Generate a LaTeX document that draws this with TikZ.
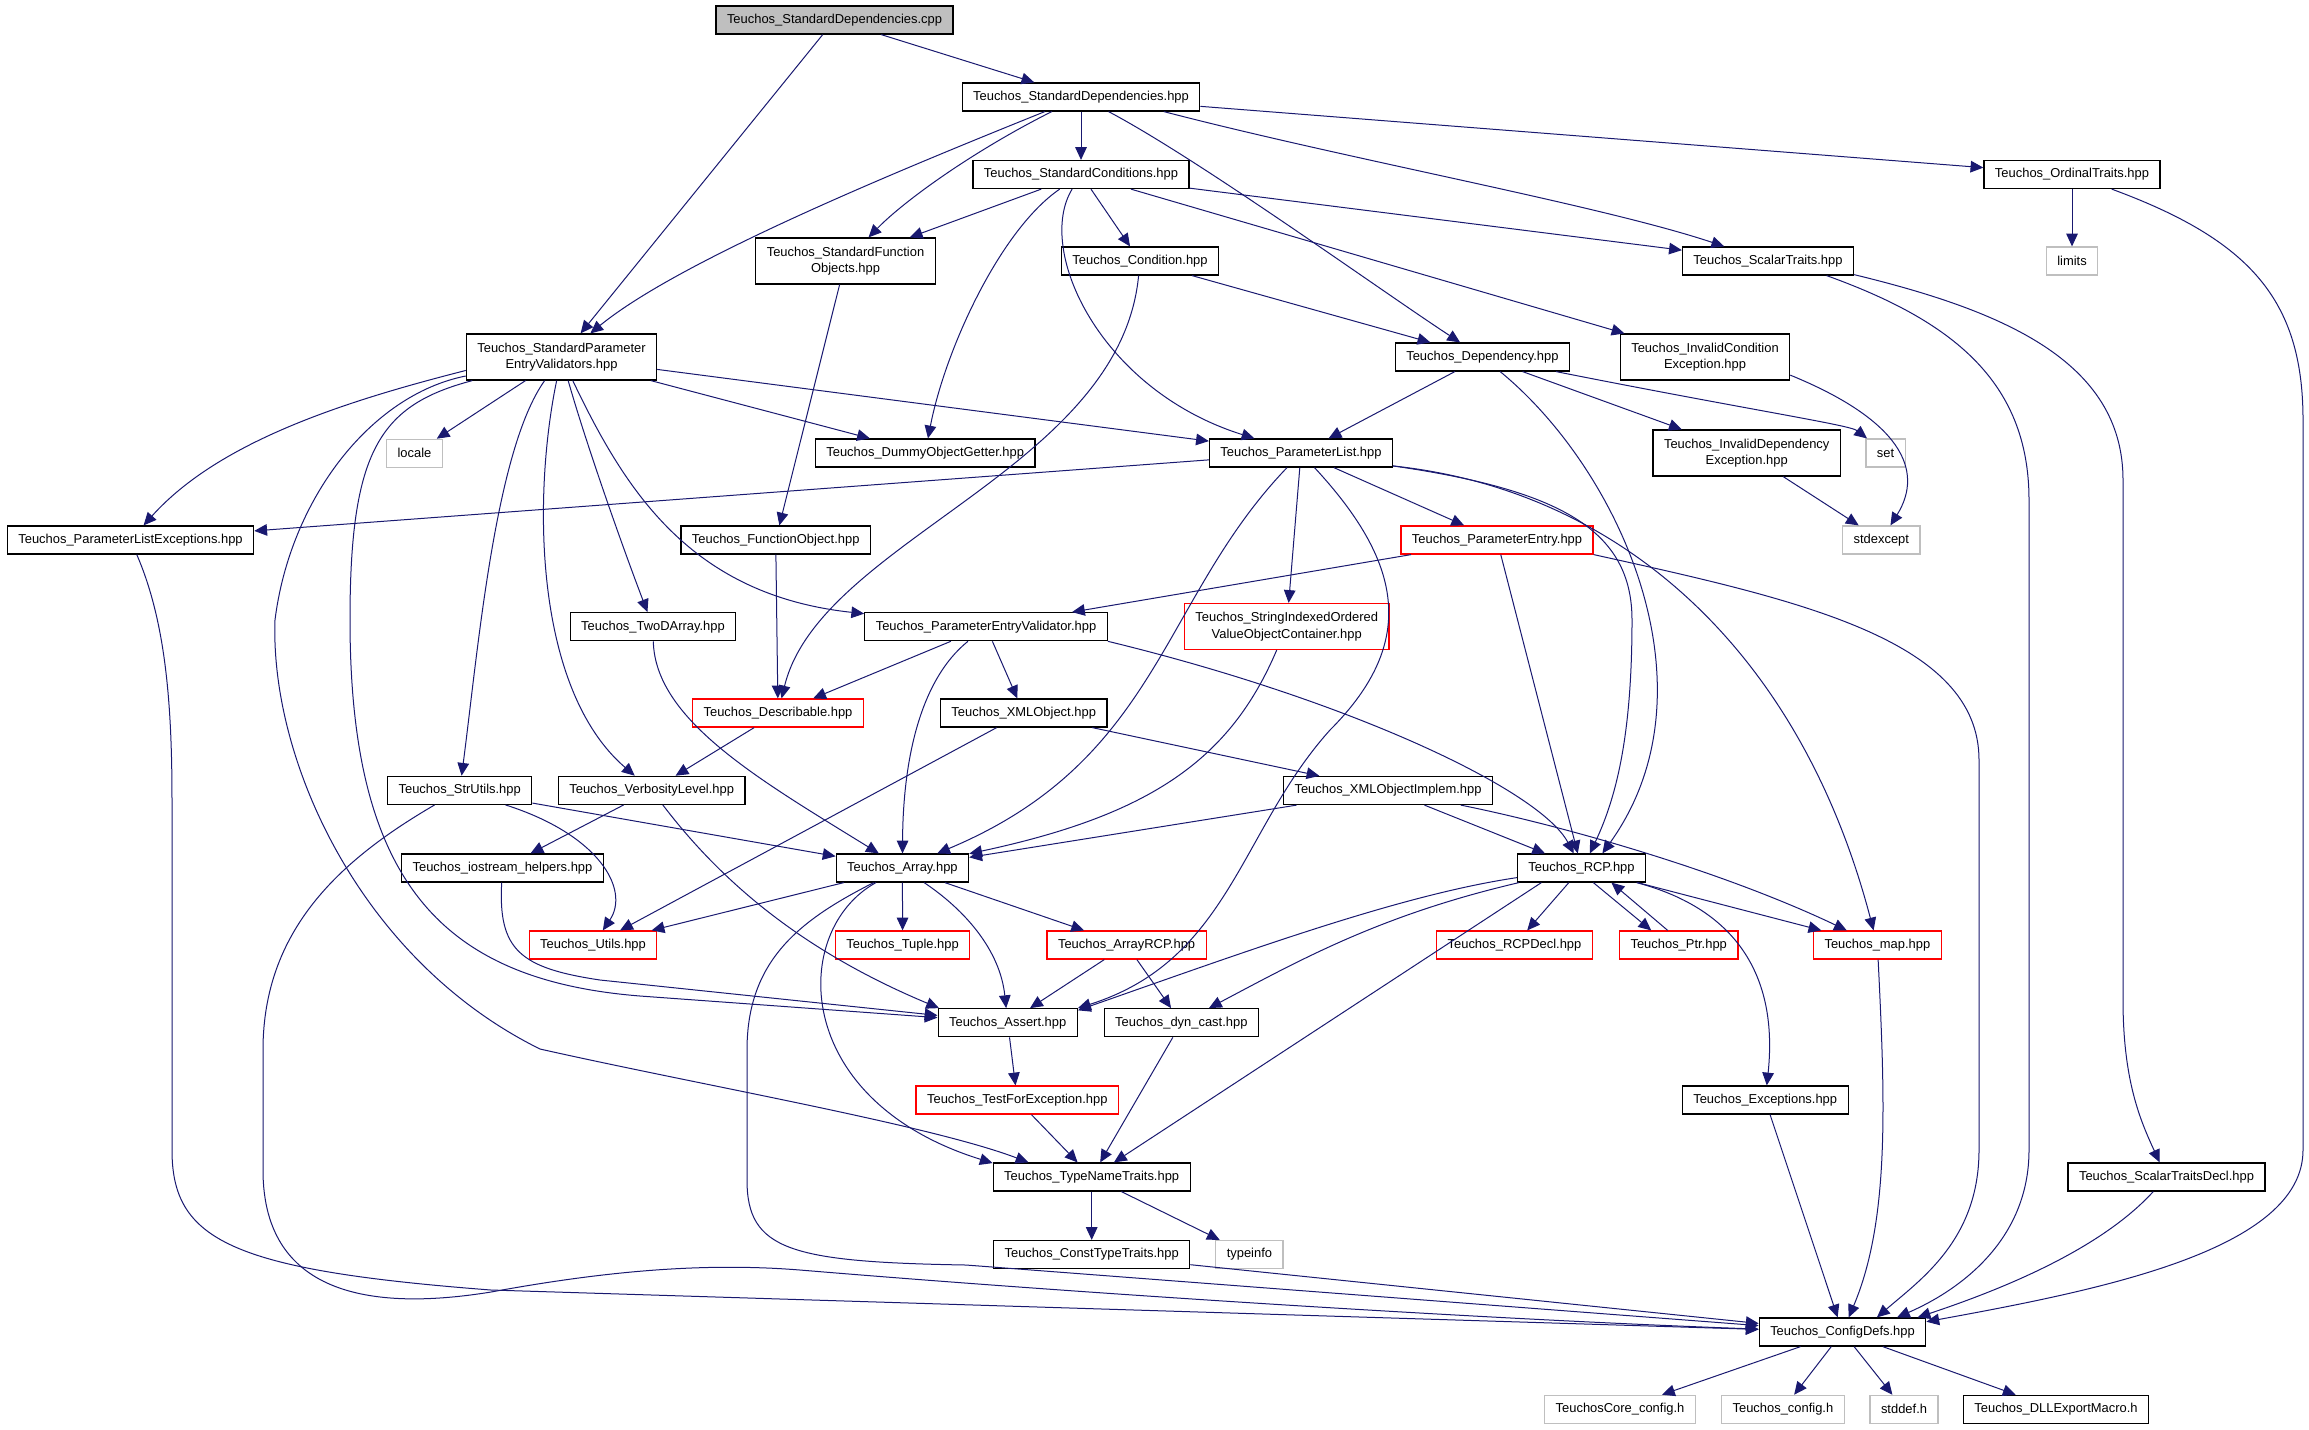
\documentclass[tikz,border=0pt]{standalone}
\usepackage{fontspec}
\setmainfont{Liberation Sans}
\usetikzlibrary{arrows.meta}
\definecolor{EdgeBlue}{HTML}{191970}
\definecolor{SysGray}{HTML}{BFBFBF}
\tikzstyle{FileNode}=[rectangle, draw=black, line width=0.3mm, fill=white, inner xsep=2.75mm, inner ysep=0pt, minimum height=7mm, font=\fontsize{9.2pt}{11.85pt}\selectfont]
\tikzstyle{TwoLineNode}=[FileNode, align=center, minimum height=11.5mm]
\tikzstyle{RedNode}=[FileNode, draw=red]
\tikzstyle{RedTwoLineNode}=[TwoLineNode, draw=red]
\tikzstyle{SysNode}=[FileNode, draw=SysGray]
\tikzstyle{RootNode}=[FileNode, fill=SysGray]
\tikzstyle{IncEdge}=[-{Triangle[length=3.2mm,width=2.9mm]}, draw=EdgeBlue, fill=none, line width=0.25mm]

\begin{document}
\begin{tikzpicture}[x=0.25mm, y=-0.25mm]
\path[fill=white, use as bounding box] (0,0) rectangle (2309,1429);

\node[RootNode](Cpp) at (834.5,20) {Teuchos\_StandardDependencies.cpp};
\node[FileNode](SDHpp) at (1081,97) {Teuchos\_StandardDependencies.hpp};
\node[FileNode](SCond) at (1081,174.5) {Teuchos\_StandardConditions.hpp};
\node[FileNode](OrdTr) at (2072,174.5) {Teuchos\_OrdinalTraits.hpp};
\node[TwoLineNode](SFuncObj) at (845.5,261) {Teuchos\_StandardFunction\\Objects.hpp};
\node[FileNode](Cond) at (1140,261) {Teuchos\_Condition.hpp};
\node[FileNode](ScTr) at (1768,261) {Teuchos\_ScalarTraits.hpp};
\node[SysNode](Limits) at (2072,261) {limits};
\node[TwoLineNode](SPEV) at (561.5,357) {Teuchos\_StandardParameter\\EntryValidators.hpp};
\node[FileNode](Dep) at (1482.4,357) {Teuchos\_Dependency.hpp};
\node[TwoLineNode](ICExc) at (1705,357) {Teuchos\_InvalidCondition\\Exception.hpp};
\node[SysNode](Locale) at (414.5,453.3) {locale};
\node[FileNode](Dummy) at (925.2,453) {Teuchos\_DummyObjectGetter.hpp};
\node[FileNode](PList) at (1301,453) {Teuchos\_ParameterList.hpp};
\node[TwoLineNode](IDExc) at (1746.7,453) {Teuchos\_InvalidDependency\\Exception.hpp};
\node[SysNode](Set) at (1885.5,453) {set};
\node[FileNode](PLExc) at (130.5,540) {Teuchos\_ParameterListExceptions.hpp};
\node[FileNode](FuncObj) at (775.7,540) {Teuchos\_FunctionObject.hpp};
\node[RedNode](PEntry) at (1497,540) {Teuchos\_ParameterEntry.hpp};
\node[SysNode](StdExc) at (1881.3,540) {stdexcept};
\node[FileNode](TwoD) at (653,626.7) {Teuchos\_TwoDArray.hpp};
\node[FileNode](PEV) at (986,626.7) {Teuchos\_ParameterEntryValidator.hpp};
\node[RedTwoLineNode](SIOVOC) at (1286.7,626.5) {Teuchos\_StringIndexedOrdered\\ValueObjectContainer.hpp};
\node[RedNode](Descr) at (778,713) {Teuchos\_Describable.hpp};
\node[FileNode](XMLObj) at (1023.7,713) {Teuchos\_XMLObject.hpp};
\node[FileNode](StrUtils) at (459.7,790.3) {Teuchos\_StrUtils.hpp};
\node[FileNode](Verb) at (651.7,790.3) {Teuchos\_VerbosityLevel.hpp};
\node[FileNode](XMLImpl) at (1388,790.5) {Teuchos\_XMLObjectImplem.hpp};
\node[FileNode](IoHelp) at (502.5,868) {Teuchos\_iostream\_helpers.hpp};
\node[FileNode](Array) at (902.4,868) {Teuchos\_Array.hpp};
\node[FileNode](RCP) at (1581.5,868) {Teuchos\_RCP.hpp};
\node[RedNode](Utils) at (593,945) {Teuchos\_Utils.hpp};
\node[RedNode](Tuple) at (902.6,945) {Teuchos\_Tuple.hpp};
\node[RedNode](ArrRCP) at (1126.6,945) {Teuchos\_ArrayRCP.hpp};
\node[RedNode](RCPDecl) at (1514.5,945) {Teuchos\_RCPDecl.hpp};
\node[RedNode](Ptr) at (1678.7,945) {Teuchos\_Ptr.hpp};
\node[RedNode](Map) at (1877.4,945) {Teuchos\_map.hpp};
\node[FileNode](Assert) at (1007.7,1022.7) {Teuchos\_Assert.hpp};
\node[FileNode](DynCast) at (1181.3,1022.7) {Teuchos\_dyn\_cast.hpp};
\node[RedNode](TFExc) at (1017.3,1100) {Teuchos\_TestForException.hpp};
\node[FileNode](Exc) at (1765.2,1100) {Teuchos\_Exceptions.hpp};
\node[FileNode](TNT) at (1091.7,1177) {Teuchos\_TypeNameTraits.hpp};
\node[FileNode](STDecl) at (2166.5,1177) {Teuchos\_ScalarTraitsDecl.hpp};
\node[FileNode](CTT) at (1091.7,1254.5) {Teuchos\_ConstTypeTraits.hpp};
\node[SysNode](TypeInfo) at (1249.4,1254.5) {typeinfo};
\node[FileNode](CfgDefs) at (1842.5,1332) {Teuchos\_ConfigDefs.hpp};
\node[SysNode](CoreCfg) at (1620,1409.3) {TeuchosCore\_config.h};
\node[SysNode](TCfg) at (1782.9,1409.3) {Teuchos\_config.h};
\node[SysNode](StdDef) at (1904,1409.3) {stddef.h};
\node[FileNode](DLL) at (2056,1409.3) {Teuchos\_DLLExportMacro.h};

% top of the graph
\draw[IncEdge] (Cpp) -- (SDHpp);
\draw[IncEdge] (Cpp) -- (SPEV);
\draw[IncEdge] (SDHpp) -- (SCond);
\draw[IncEdge] (SDHpp) .. controls (900,170) and (680,260) .. (SPEV);
\draw[IncEdge] (SDHpp) .. controls (975,150) and (905,200) .. (SFuncObj);
\draw[IncEdge] (SDHpp) .. controls (1200,160) and (1380,290) .. (Dep);
\draw[IncEdge] (SDHpp.-10) .. controls (1350,160) and (1600,205) .. (ScTr);
\draw[IncEdge] (SDHpp) -- (OrdTr);
\draw[IncEdge] (SCond) -- (SFuncObj);
\draw[IncEdge] (SCond) -- (Cond);
\draw[IncEdge] (SCond) .. controls (1000,230) and (945,350) .. (Dummy);
\draw[IncEdge] (SCond) .. controls (1035,250) and (1100,390) .. (PList);
\draw[IncEdge] (SCond) -- (ICExc);
\draw[IncEdge] (SCond) -- (ScTr);
\draw[IncEdge] (Cond) -- (Dep);
\draw[IncEdge] (Cond) .. controls (1120,470) and (820,540) .. (Descr);
\draw[IncEdge] (SFuncObj) -- (FuncObj);
\draw[IncEdge] (OrdTr) -- (Limits);

% validators
\draw[IncEdge] (SPEV) -- (Locale);
\draw[IncEdge] (SPEV.-172) .. controls (350,400) and (220,440) .. (PLExc);
\draw[IncEdge] (SPEV) -- (Dummy);
\draw[IncEdge] (SPEV) -- (PList);
\draw[IncEdge] (SPEV) .. controls (585,440) and (620,540) .. (TwoD);
\draw[IncEdge] (SPEV) .. controls (625,490) and (690,595) .. (PEV);
\draw[IncEdge] (SPEV) .. controls (495,450) and (478,650) .. (StrUtils);
\draw[IncEdge] (SPEV) .. controls (532,500) and (535,690) .. (Verb);
\draw[IncEdge] (SPEV) .. controls (380,405) and (350,450) .. (350,620) .. controls (350,880) and (440,980) .. (640,996) -- (Assert);
\draw[IncEdge] (SPEV) .. controls (370,395) and (290,500) .. (275,620) .. controls (270,760) and (360,960) .. (540,1049) .. controls (700,1085) and (930,1125) .. (TNT.167);

% parameter list
\draw[IncEdge] (PList) -- (PLExc);
\draw[IncEdge] (PList) -- (PEntry);
\draw[IncEdge] (PList) -- (SIOVOC);
\draw[IncEdge] (PList) .. controls (1160,600) and (1160,760) .. (Array);
\draw[IncEdge] (PList) .. controls (1400,560) and (1420,640) .. (1330,730) .. controls (1240,830) and (1230,960) .. (Assert.north east);
\draw[IncEdge] (PList.-8) .. controls (1560,490) and (1632,530) .. (1632,620) .. controls (1632,740) and (1615,800) .. (RCP.60);
\draw[IncEdge] (PList.-8) .. controls (1620,490) and (1800,650) .. (Map);

% dependency
\draw[IncEdge] (Dep) -- (PList);
\draw[IncEdge] (Dep) .. controls (1620,470) and (1720,690) .. (RCP.35);
\draw[IncEdge] (Dep) -- (IDExc);
\draw[IncEdge] (Dep) .. controls (1750,410) and (1850,425) .. (Set);
\draw[IncEdge] (ICExc.-12) .. controls (1900,420) and (1925,470) .. (StdExc);
\draw[IncEdge] (IDExc) -- (StdExc);

% traits down to config
\draw[IncEdge] (ScTr.-14) .. controls (1950,320) and (2029,380) .. (2029,500) -- (2029,1150) .. controls (2029,1240) and (1960,1290) .. (CfgDefs.15);
\draw[IncEdge] (ScTr.-9) .. controls (2000,310) and (2123,360) .. (2123,480) -- (2123,1000) .. controls (2123,1080) and (2140,1120) .. (STDecl);
\draw[IncEdge] (OrdTr) .. controls (2250,240) and (2303,300) .. (2303,420) -- (2303,1150) .. controls (2303,1250) and (2100,1290) .. (CfgDefs.7);
\draw[IncEdge] (STDecl) .. controls (2100,1250) and (2000,1290) .. (CfgDefs.11);

% parameter entry and validator
\draw[IncEdge] (PEntry) -- (PEV);
\draw[IncEdge] (PEntry) -- (RCP);
\draw[IncEdge] (PEntry.south east) .. controls (1800,600) and (1979,640) .. (1979,760) -- (1979,1150) .. controls (1979,1240) and (1920,1280) .. (CfgDefs.23);
\draw[IncEdge] (PEV) -- (Descr);
\draw[IncEdge] (PEV) .. controls (920,680) and (903,760) .. (Array);
\draw[IncEdge] (PEV) -- (XMLObj);
\draw[IncEdge] (PEV.south east) .. controls (1350,700) and (1540,790) .. (RCP);

% middle
\draw[IncEdge] (FuncObj) -- (Descr);
\draw[IncEdge] (Descr) -- (Verb);
\draw[IncEdge] (TwoD) .. controls (655,720) and (760,780) .. (Array);
\draw[IncEdge] (SIOVOC) .. controls (1230,760) and (1150,815) .. (Array);
\draw[IncEdge] (XMLObj) -- (Utils);
\draw[IncEdge] (XMLObj) -- (XMLImpl);
\draw[IncEdge] (XMLImpl) -- (Array);
\draw[IncEdge] (XMLImpl) -- (RCP);
\draw[IncEdge] (XMLImpl) .. controls (1560,825) and (1720,870) .. (Map);
\draw[IncEdge] (StrUtils) -- (Array);
\draw[IncEdge] (StrUtils) .. controls (600,835) and (630,890) .. (Utils);
\draw[IncEdge] (StrUtils) .. controls (340,860) and (263,930) .. (263,1050) -- (263,1170) .. controls (263,1300) and (380,1310) .. (491,1292) .. controls (600,1272) and (700,1262) .. (800,1270) .. controls (1100,1295) and (1500,1320) .. (CfgDefs);
\draw[IncEdge] (Verb) -- (IoHelp);
\draw[IncEdge] (Verb) .. controls (720,880) and (800,950) .. (Assert.168);
\draw[IncEdge] (IoHelp) .. controls (498,950) and (520,968) .. (600,980) -- (Assert);

% array
\draw[IncEdge] (Array) -- (Utils);
\draw[IncEdge] (Array) -- (Tuple);
\draw[IncEdge] (Array) -- (ArrRCP);
\draw[IncEdge] (Array) .. controls (965,910) and (1000,950) .. (Assert);
\draw[IncEdge] (Array) .. controls (790,930) and (790,1100) .. (TNT.172);
\draw[IncEdge] (Array) .. controls (800,920) and (747,960) .. (747,1050) -- (747,1180) .. controls (747,1250) and (790,1262) .. (966,1265) -- (CfgDefs);
\draw[IncEdge] (ArrRCP) -- (Assert);
\draw[IncEdge] (ArrRCP) -- (DynCast);
\draw[IncEdge] (DynCast) -- (TNT);
\draw[IncEdge] (Assert) -- (TFExc);
\draw[IncEdge] (TFExc) -- (TNT);
\draw[IncEdge] (TNT) -- (CTT);
\draw[IncEdge] (TNT) -- (TypeInfo);
\draw[IncEdge] (CTT) -- (CfgDefs);

% rcp
\draw[IncEdge] (RCP) -- (RCPDecl);
\draw[IncEdge] (RCP.-51) -- (Ptr.152);
\draw[IncEdge] (Ptr.127) -- (RCP.-26);
\draw[IncEdge] (RCP) -- (Map);
\draw[IncEdge] (RCP) .. controls (1400,895) and (1250,950) .. (Assert.10);
\draw[IncEdge] (RCP) .. controls (1380,915) and (1300,960) .. (DynCast);
\draw[IncEdge] (RCP.-160) -- (TNT);
\draw[IncEdge] (RCP) .. controls (1740,910) and (1778,980) .. (Exc);

% into config
\draw[IncEdge] (Exc) -- (CfgDefs);
\draw[IncEdge] (Map) .. controls (1885,1100) and (1890,1220) .. (CfgDefs);
\draw[IncEdge] (PLExc) .. controls (165,620) and (172,700) .. (172,800) -- (172,1150) .. controls (172,1240) and (230,1270) .. (491,1290) -- (CfgDefs);
\draw[IncEdge] (CfgDefs) -- (CoreCfg);
\draw[IncEdge] (CfgDefs) -- (TCfg);
\draw[IncEdge] (CfgDefs) -- (StdDef);
\draw[IncEdge] (CfgDefs) -- (DLL);
\end{tikzpicture}
\end{document}
